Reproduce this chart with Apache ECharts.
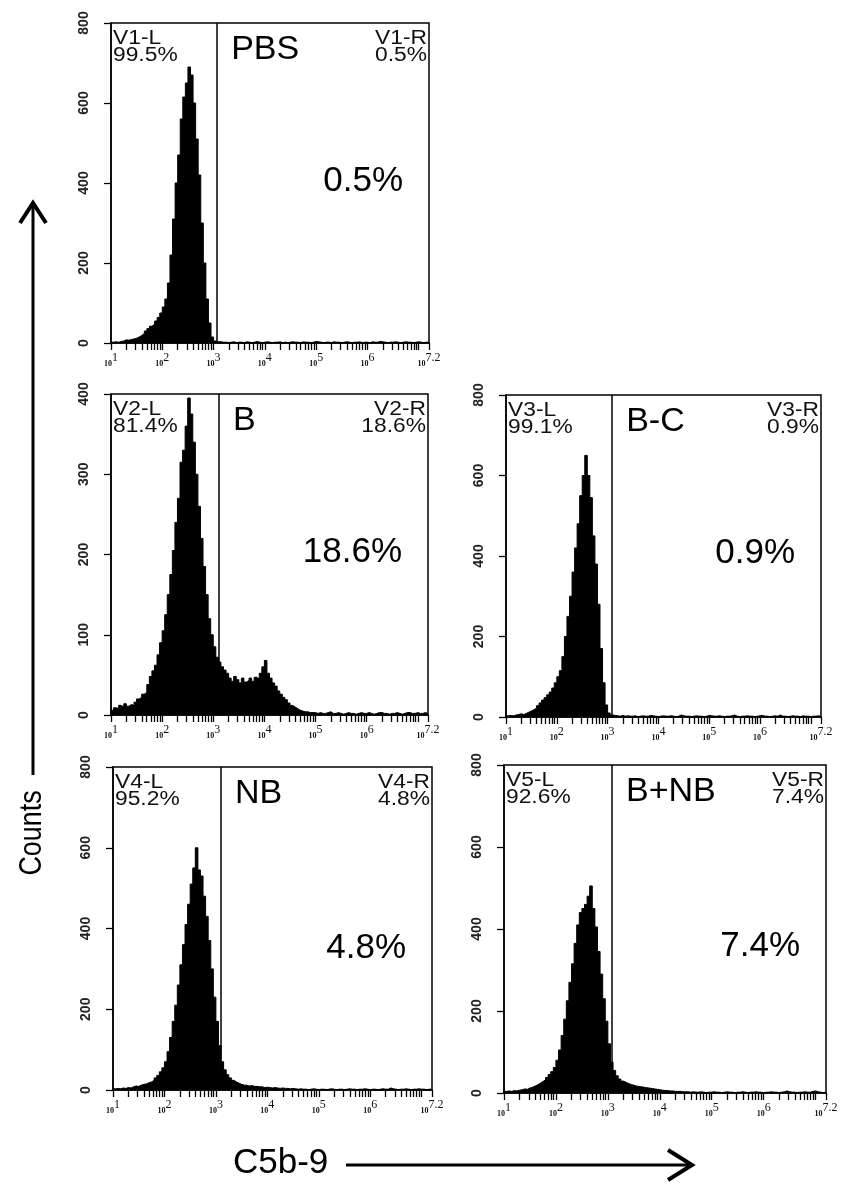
<!DOCTYPE html>
<html><head><meta charset="utf-8">
<script src="https://cdn.jsdelivr.net/npm/echarts@6/dist/echarts.min.js"></script>
<style>html,body{margin:0;padding:0;background:#fff}#c{width:842px;height:1187px}</style>
</head><body><div id="c"></div>
<script>
// ---- data ----
const binStart = 1.0;     // log10 of first bin's left edge
const binWidth = 0.05;    // bin width in decades
const xMaxExp = 7.2;
const xTickExponents = ['1', '2', '3', '4', '5', '6', '7.2'];
const panelNames = ['PBS', 'B', 'B-C', 'NB', 'B+NB'];
const gateLeftNames = ['V1-L', 'V2-L', 'V3-L', 'V4-L', 'V5-L'];
const gateRightNames = ['V1-R', 'V2-R', 'V3-R', 'V4-R', 'V5-R'];
const leftPercents = ['99.5%', '81.4%', '99.1%', '95.2%', '92.6%'];
const rightPercents = ['0.5%', '18.6%', '0.9%', '4.8%', '7.4%'];
const yMaxValues = [800, 400, 800, 800, 800];
const yIntervals = [200, 100, 200, 200, 200];
const gateExponents = [3.07, 3.11, 3.09, 3.10, 3.08];

const countsPBS = [2,3,2,4,5,8,7,9,10,12,15,19,24,30,36,42,47,55,64,75,
  90,110,150,220,310,400,470,560,615,650,690,670,600,510,420,300,200,110,50,15,
  5,3,
  3,2,2,1,2,3,1,2,2,1,3,2,1,2,4,2,1,2,3,2,1,2,2,3,1,2,1,2,3,2,2,1,3,2,2,1,2,4,3,2,
  1,2,2,1,3,2,2,1,2,3,2,1,2,2,3,1,2,2,1,3,2,2,4,3,2,1,2,2,3,2,1,2,3,2,2,1,2,3,2,1,2,2];
const countsB = [6,9,8,12,10,14,11,13,12,16,20,22,26,28,38,48,55,62,75,90,
  105,125,150,175,205,240,270,315,330,360,395,375,340,300,260,220,185,150,120,100,
  85,72,66,60,56,52,46,42,48,44,40,46,41,43,46,42,47,45,52,60,
  68,52,46,40,36,30,26,22,19,15,12,10,8,6,5,4,4,3,3,
  3,2,3,2,2,3,4,2,2,3,2,1,2,3,2,2,1,2,3,2,2,3,2,1,2,3,3,2,2,1,2,2,3,2,1,2,3,3,2,2,3,2,2,3,2];
const countsBC = [3,4,3,5,6,8,6,9,12,15,18,22,28,35,42,48,55,62,72,85,
  100,115,150,200,250,300,360,420,480,550,600,650,600,545,450,380,280,170,85,30,
  10,5,4,
  3,2,4,2,3,2,2,3,1,2,3,2,2,4,3,2,1,2,3,2,2,3,2,1,2,5,3,2,2,1,2,3,2,2,1,2,4,3,2,2,
  3,2,1,2,2,3,5,2,1,2,2,3,2,2,1,2,3,4,2,2,1,2,3,2,5,2,2,1,2,3,2,2,1,3,2,2,1,2,2,3,2];
const countsNB = [3,4,3,5,4,6,5,8,10,9,12,14,15,18,20,24,30,36,45,55,
  70,95,130,170,210,260,310,360,410,460,510,550,600,545,530,480,430,370,300,230,
  170,110,70,50,38,30,24,20,17,14,12,12,10,11,9,9,8,8,6,7,
  6,5,6,5,4,5,4,4,3,4,3,
  2,3,2,2,1,2,3,2,1,2,2,1,2,3,2,1,2,2,1,2,3,2,2,1,2,2,3,2,1,2,2,1,2,3,2,2,5,3,2,1,
  2,2,3,2,1,2,2,3,2,2,1,2,2];
const countsBNB = [4,5,4,6,5,7,8,10,9,12,14,17,20,24,28,32,38,45,52,62,
  80,105,140,180,225,270,315,365,410,440,450,460,480,505,450,405,345,290,230,175,
  120,75,55,42,34,29,26,23,21,19,17,16,15,14,13,12,11,10,9,8,
  7,6,6,5,5,4,4,4,3,3,3,
  2,3,2,2,3,2,1,2,2,3,2,2,1,2,3,2,2,1,2,2,3,2,1,2,2,3,2,2,1,2,2,3,2,2,1,2,3,5,3,2,
  2,1,2,2,3,2,2,4,5,3,2,1,2];
const panelCounts = [countsPBS, countsB, countsBC, countsNB, countsBNB];

// ---- layout ----
const grids = [
  {left: 111, top: 23,  width: 318, height: 320},
  {left: 111, top: 394, width: 317, height: 321},
  {left: 506, top: 395, width: 315, height: 322},
  {left: 113, top: 767, width: 319, height: 323},
  {left: 504, top: 765, width: 322, height: 328}
];
const FONT = '"Liberation Sans", Arial, sans-serif';

const tickVals = [];
for (let d = 1; d <= 7; d++) {
  for (let k = 1; k <= 9; k++) {
    const v = d + Math.log10(k);
    if (v <= xMaxExp + 1e-9) tickVals.push(v);
  }
}
tickVals.push(xMaxExp);
const labelVals = xTickExponents.map(parseFloat);

function histData(counts) {
  const out = counts.map((c, i) => [binStart + i * binWidth, c]);
  const end = Math.min(binStart + counts.length * binWidth, xMaxExp);
  out.push([end, counts[counts.length - 1]]);
  return out;
}

const chart = echarts.init(document.getElementById('c'), null, {renderer: 'canvas'});
const option = {
  animation: false,
  backgroundColor: '#fff',
  grid: grids.map(g => Object.assign({show: true, borderColor: '#000', borderWidth: 1.5, backgroundColor: 'transparent'}, g)),
  xAxis: grids.map((g, i) => ({
    type: 'value', gridIndex: i, min: 1, max: xMaxExp,
    axisLine: {show: true, onZero: false, lineStyle: {color: '#000', width: 1.5}},
    axisTick: {show: true, length: 7, lineStyle: {color: '#000', width: 1.3}, customValues: tickVals},
    axisLabel: {
      show: true, customValues: labelVals, margin: 9,
      formatter: v => {
        const idx = labelVals.findIndex(x => Math.abs(x - v) < 1e-6);
        return '{b|10}{s|' + (idx >= 0 ? xTickExponents[idx] : v) + '}';
      },
      rich: {
        b: {fontSize: 8, fontWeight: 'bold', fontFamily: '"Liberation Serif", serif', color: '#111', verticalAlign: 'bottom', lineHeight: 16},
        s: {fontSize: 12, fontFamily: '"Liberation Serif", serif', color: '#111', verticalAlign: 'top', lineHeight: 12}
      }
    },
    splitLine: {show: false}
  })),
  yAxis: grids.map((g, i) => ({
    type: 'value', gridIndex: i, min: 0, max: yMaxValues[i], interval: yIntervals[i],
    axisLine: {show: true, lineStyle: {color: '#000', width: 1.5}},
    axisTick: {show: true, length: 7, lineStyle: {color: '#000', width: 1.3}},
    axisLabel: {rotate: 90, margin: 20, fontSize: 14, fontWeight: 'bold', color: '#222', fontFamily: FONT},
    splitLine: {show: false}
  })),
  series: panelCounts.map((counts, i) => ({
    type: 'line', xAxisIndex: i, yAxisIndex: i,
    step: 'end', symbol: 'none', silent: true,
    data: histData(counts),
    lineStyle: {color: '#000', width: 1},
    areaStyle: {color: '#000', opacity: 1},
    markLine: {
      silent: true, symbol: ['none', 'none'], label: {show: false},
      lineStyle: {color: '#000', width: 1.5, type: 'solid'},
      data: [{xAxis: gateExponents[i]}]
    }
  }))
};
chart.setOption(option);

// ---- annotations ----
const graphics = [];
grids.forEach((g, i) => {
  const right = g.left + g.width;
  const gatePx = chart.convertToPixel({gridIndex: i}, [gateExponents[i], 0])[0];
  const row3 = i >= 3;
  graphics.push({
    type: 'text', x: g.left + 2, y: g.top + 7, scaleX: 1.14, originX: 0, silent: true,
    style: {text: gateLeftNames[i] + '\n' + leftPercents[i], font: '20px ' + FONT, fill: '#111',
      textAlign: 'left', textVerticalAlign: 'top', lineHeight: 17}
  });
  graphics.push({
    type: 'text', x: right - 2, y: g.top + 7, scaleX: 1.14, originX: 0, silent: true,
    style: {text: gateRightNames[i] + '\n' + rightPercents[i], font: '20px ' + FONT, fill: '#111',
      textAlign: 'right', textVerticalAlign: 'top', lineHeight: 17}
  });
  graphics.push({
    type: 'text', x: gatePx + 14, y: g.top + 27, silent: true,
    style: {text: panelNames[i], font: '34px ' + FONT, fill: '#000', textAlign: 'left', textVerticalAlign: 'middle'}
  });
  graphics.push({
    type: 'text', x: right - 26, y: g.top + (row3 ? 181 : 158), silent: true,
    style: {text: rightPercents[i], font: '35px ' + FONT, fill: '#000', textAlign: 'right', textVerticalAlign: 'middle'}
  });
});
// Counts arrow
graphics.push({type: 'line', silent: true, shape: {x1: 33, y1: 775, x2: 33, y2: 203}, style: {stroke: '#000', lineWidth: 3}});
graphics.push({type: 'polyline', silent: true, shape: {points: [[20, 223], [33, 203], [46, 223]]}, style: {stroke: '#000', lineWidth: 4, fill: null}});
graphics.push({type: 'text', x: 32, y: 833, rotation: Math.PI / 2, scaleX: 0.84, silent: true,
  style: {text: 'Counts', font: '32px ' + FONT, fill: '#000', textAlign: 'center', textVerticalAlign: 'middle'}});
// C5b-9 arrow
graphics.push({type: 'text', x: 233, y: 1163, silent: true,
  style: {text: 'C5b-9', font: '35px ' + FONT, fill: '#000', textAlign: 'left', textVerticalAlign: 'middle'}});
graphics.push({type: 'line', silent: true, shape: {x1: 346, y1: 1165, x2: 690, y2: 1165}, style: {stroke: '#000', lineWidth: 3}});
graphics.push({type: 'polyline', silent: true, shape: {points: [[668, 1150], [692, 1165], [668, 1180]]}, style: {stroke: '#000', lineWidth: 4, fill: null}});

chart.setOption({graphic: graphics});
</script>
</body></html>
